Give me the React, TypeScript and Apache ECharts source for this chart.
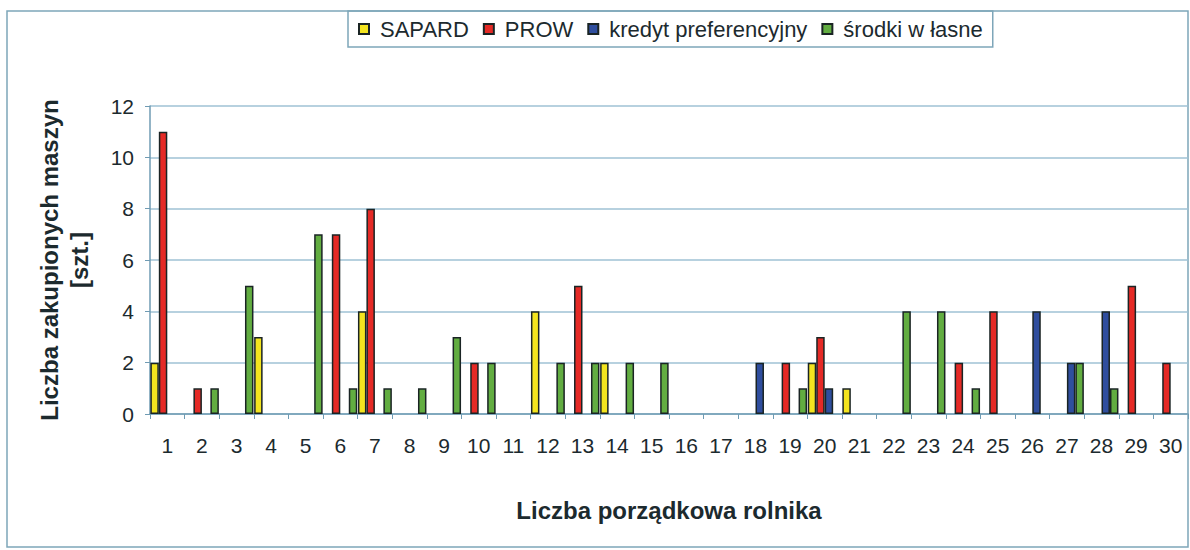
import React, { useEffect, useRef } from "react";
import * as echarts from "echarts";

const categories = Array.from({ length: 30 }, (_, i) => String(i + 1));
const seriesNames = ["SAPARD", "PROW", "kredyt preferencyjny", "środki w łasne"];
const sapard = [2, 0, 0, 3, 0, 0, 4, 0, 0, 0, 0, 4, 0, 2, 0, 0, 0, 0, 0, 2, 1, 0, 0, 0, 0, 0, 0, 0, 0, 0];
const prow = [11, 1, 0, 0, 0, 7, 8, 0, 0, 2, 0, 0, 5, 0, 0, 0, 0, 0, 2, 3, 0, 0, 0, 2, 4, 0, 0, 0, 5, 2];
const kredyt = [0, 0, 0, 0, 0, 0, 0, 0, 0, 0, 0, 0, 0, 0, 0, 0, 0, 2, 0, 1, 0, 0, 0, 0, 0, 4, 2, 4, 0, 0];
const srodki = [0, 1, 5, 0, 7, 1, 1, 1, 3, 2, 0, 2, 2, 2, 2, 0, 0, 0, 1, 0, 0, 4, 4, 1, 0, 0, 2, 1, 0, 0];
const colors = ["#f3e41f", "#e52a26", "#2f4e9e", "#62ad41"];
const yTicks = [0, 2, 4, 6, 8, 10, 12];

export default function App() {
  const ref = useRef<HTMLDivElement>(null);
  useEffect(() => {
    document.body.style.margin = "0";
    const chart = echarts.init(ref.current!, null, { renderer: "svg" });
    const datasets = [sapard, prow, kredyt, srodki];
    const font = "'Liberation Sans', Arial, sans-serif";
    chart.setOption({
      animation: false,
      backgroundColor: "#ffffff",
      textStyle: { fontFamily: font },
      graphic: [
        {
          type: "rect",
          shape: { x: 7, y: 11, width: 1181, height: 536 },
          style: { fill: "none", stroke: "#7ea6b9", lineWidth: 1.5 },
          silent: true,
        },
      ],
      legend: {
        left: 348,
        top: 11,
        padding: [7, 10, 7, 10],
        borderColor: "#7ea6b9",
        borderWidth: 1.5,
        itemWidth: 10,
        itemHeight: 10,
        itemGap: 14,
        icon: "rect",
        textStyle: { fontSize: 22, color: "#1c2a2e", fontFamily: font, padding: [0, 0, 0, 6] },
        data: seriesNames,
      },
      grid: { left: 150, right: 2, top: 106, bottom: 136 },
      xAxis: {
        type: "category",
        data: categories,
        name: "Liczba porządkowa rolnika",
        nameLocation: "middle",
        nameGap: 84,
        nameTextStyle: { fontSize: 24, fontWeight: "bold", color: "#1c2a2e", fontFamily: font },
        axisLine: { lineStyle: { color: "#6f9bb3", width: 1.5 } },
        axisTick: { show: true, length: 5, alignWithLabel: false, lineStyle: { color: "#6f9bb3" } },
        axisLabel: { fontSize: 21, color: "#1c2a2e", margin: 21, interval: 0 },
        splitLine: { show: false },
      },
      yAxis: {
        type: "value",
        min: yTicks[0],
        max: yTicks[yTicks.length - 1],
        interval: 2,
        name: "Liczba zakupionych maszyn\n[szt.]",
        nameLocation: "middle",
        nameRotate: 90,
        nameGap: 56,
        nameTextStyle: { fontSize: 24, fontWeight: "bold", color: "#1c2a2e", lineHeight: 30, fontFamily: font },
        axisLine: { show: true, lineStyle: { color: "#6f9bb3", width: 1.5 } },
        axisTick: { show: true, length: 5, lineStyle: { color: "#6f9bb3" } },
        axisLabel: { fontSize: 21, color: "#1c2a2e", margin: 16 },
        splitLine: { show: true, lineStyle: { color: "#9fc2d4", width: 1.5 } },
      },
      series: seriesNames.map((name, i) => ({
        name,
        type: "bar",
        data: datasets[i].map((v) => (v === 0 ? "-" : v)),
        barGap: "0%",
        barCategoryGap: "2%",
        itemStyle: { color: colors[i], borderColor: "#1a2424", borderWidth: 1.5 },
      })),
    });
    return () => chart.dispose();
  }, []);
  return <div ref={ref} style={{ width: 1190, height: 550 }} />;
}
